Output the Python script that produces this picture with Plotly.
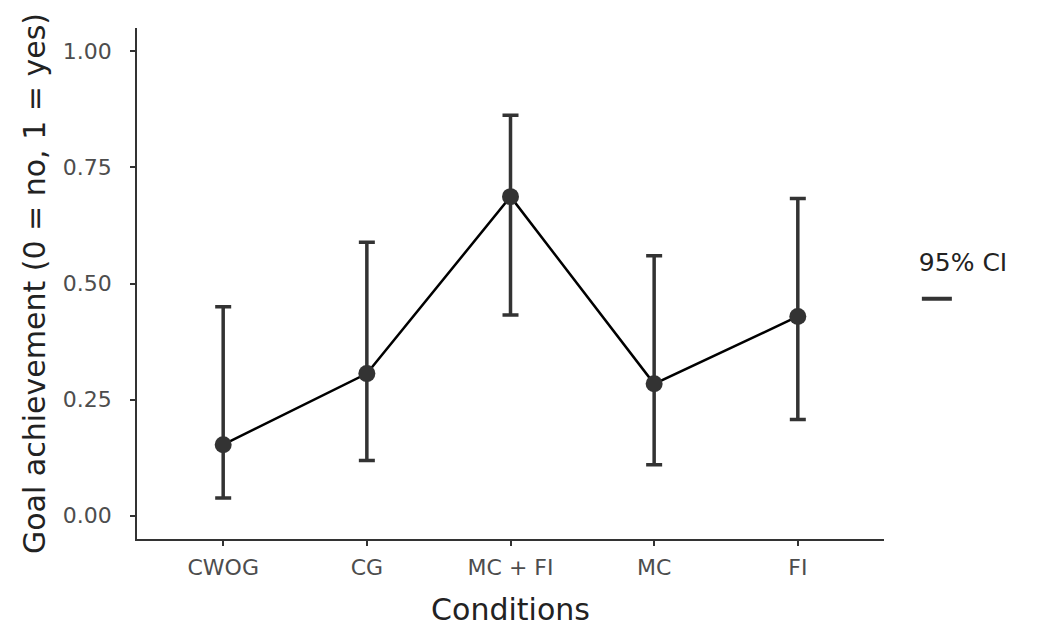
import plotly.graph_objects as go

conditions = ["CWOG", "CG", "MC + FI", "MC", "FI"]
mean_values = [0.153, 0.306, 0.687, 0.284, 0.429]
ci_upper = [0.450, 0.589, 0.862, 0.560, 0.683]
ci_lower = [0.038, 0.119, 0.432, 0.110, 0.207]
y_ticks = [0.0, 0.25, 0.5, 0.75, 1.0]
y_tick_labels = ["0.00", "0.25", "0.50", "0.75", "1.00"]

x_idx = list(range(len(conditions)))
err_plus = [u - m for u, m in zip(ci_upper, mean_values)]
err_minus = [m - l for m, l in zip(mean_values, ci_lower)]

dark = "#333333"
font_family = "DejaVu Sans, Liberation Sans, Arial, sans-serif"

fig = go.Figure()

# error bars
fig.add_trace(go.Scatter(
    x=x_idx, y=mean_values, mode="markers",
    marker=dict(size=1, color="rgba(0,0,0,0)"),
    error_y=dict(type="data", symmetric=False, array=err_plus, arrayminus=err_minus,
                 color=dark, thickness=3.5, width=8),
    showlegend=False, hoverinfo="skip",
))
# connecting line
fig.add_trace(go.Scatter(
    x=x_idx, y=mean_values, mode="lines",
    line=dict(color="black", width=2.5),
    showlegend=False,
))
# points
fig.add_trace(go.Scatter(
    x=x_idx, y=mean_values, mode="markers",
    marker=dict(size=17, color=dark),
    showlegend=False,
))
# legend key
fig.add_trace(go.Scatter(
    x=[None], y=[None], mode="lines",
    line=dict(color=dark, width=4),
    name="", showlegend=True,
))

fig.update_layout(
    width=1038, height=630,
    margin=dict(l=129, r=162, t=20, b=99),
    paper_bgcolor="white", plot_bgcolor="white",
    font=dict(family=font_family, color="#333333"),
    xaxis=dict(
        range=[-0.6, 4.6], tickmode="array", tickvals=x_idx, ticktext=conditions,
        showline=True, linecolor=dark, linewidth=1.5, showgrid=False, zeroline=False,
        ticks="outside", ticklen=5, tickwidth=1.5, tickcolor=dark,
        ticklabelstandoff=3,
        tickfont=dict(size=22, color="#4d4d4d", family=font_family),
        title=dict(text="Conditions", font=dict(size=30, color="#222222", family=font_family), standoff=20),
    ),
    yaxis=dict(
        range=[-0.05, 1.05], tickmode="array", tickvals=y_ticks, ticktext=y_tick_labels,
        showline=True, linecolor=dark, linewidth=1.5, showgrid=False, zeroline=False,
        ticks="outside", ticklen=5, tickwidth=1.5, tickcolor=dark,
        ticklabelstandoff=14,
        tickfont=dict(size=22, color="#4d4d4d", family=font_family),
        title=dict(text="Goal achievement (0 = no, 1 = yes)", font=dict(size=30, color="#222222", family=font_family), standoff=8),
    ),
    legend=dict(
        x=1.044, y=0.501, xanchor="left", yanchor="middle",
        title=dict(text="95% CI", font=dict(size=25, color="#222222", family=font_family)),
        font=dict(size=32, family=font_family),
        itemwidth=30, bgcolor="rgba(0,0,0,0)",
    ),
)

fig.write_html("out.html")
